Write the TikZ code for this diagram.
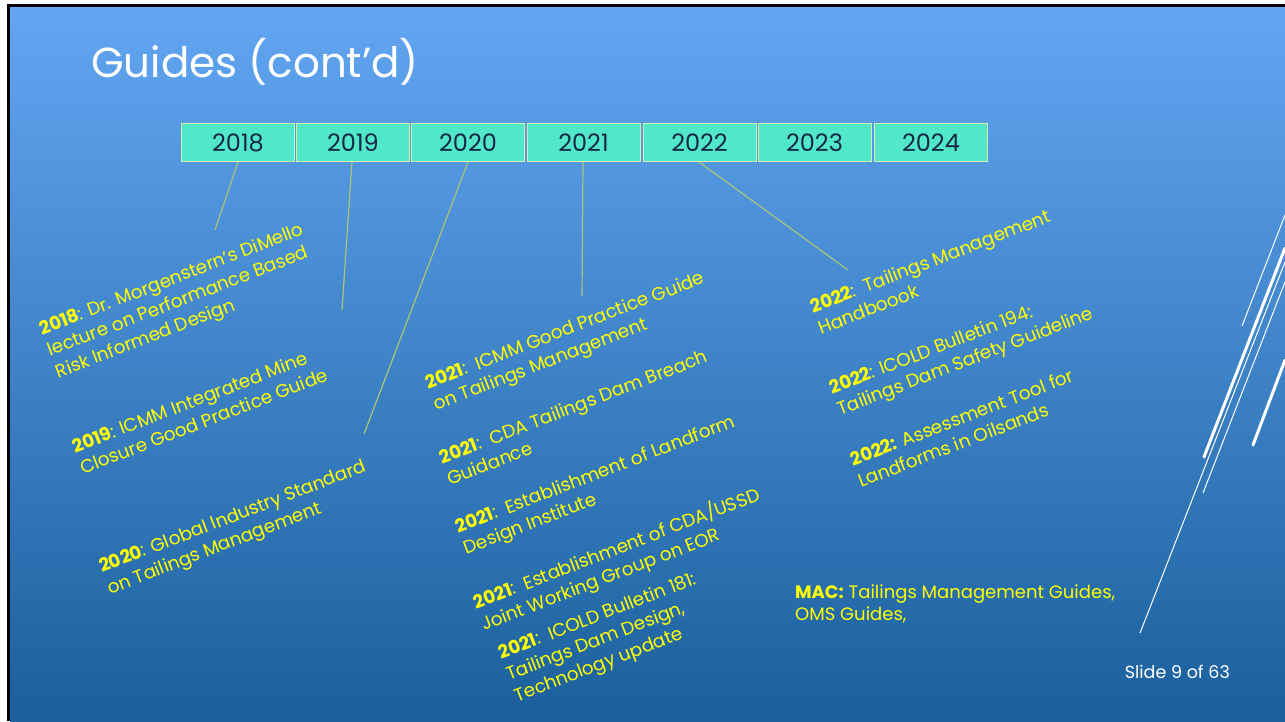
\documentclass[tikz,border=0pt]{standalone}
\usepackage{fontspec}
\setmainfont{Poppins}

\definecolor{slidetop}{RGB}{98,166,243}
\definecolor{slidebot}{RGB}{27,96,156}
\definecolor{yearfill}{RGB}{80,232,200}
\definecolor{yearedge}{RGB}{214,238,170}
\definecolor{yeartext}{RGB}{22,40,70}
\definecolor{leadline}{RGB}{170,196,120}
\definecolor{notetext}{RGB}{255,255,0}

\begin{document}
\begin{tikzpicture}[x=1pt,y=-1pt]
	\useasboundingbox (0,0) rectangle (1285,721);
	\fill[white] (0,0) rectangle (1285,721);
	\fill[black] (7,4) rectangle (1285,721);
	\shade[top color=slidetop,bottom color=slidebot] (10,7) rectangle (1285,721);
	
	\draw[white,line width=1pt] (1285,215) -- (1242,326);
	\draw[white,line width=3pt,line cap=round] (1285,248) -- (1204,457);
	\draw[white,line width=1pt] (1285,262) -- (1140,633);
	\draw[white,line width=1pt] (1285,282) -- (1203,493);
	\draw[white,line width=3pt,line cap=round] (1285,360) -- (1253,445);
	
	\node[anchor=base west,inner sep=0,white,font=\fontsize{42}{50}\selectfont] (title) at (91,77) {Guides (cont'd)};
	
	\begin{scope}[every node/.style={rectangle,draw=yearedge,line width=1pt,fill=yearfill,text=yeartext,minimum width=113,minimum height=38,inner sep=0,font=\fontsize{24}{28}\selectfont}]
		\node (y2018) at (238,142.5) {2018};
		\node (y2019) at (353,142.5) {2019};
		\node (y2020) at (468,142.5) {2020};
		\node (y2021) at (583.5,142.5) {2021};
		\node (y2022) at (699.5,142.5) {2022};
		\node (y2023) at (814.5,142.5) {2023};
		\node (y2024) at (931,142.5) {2024};
	\end{scope}
	
	\coordinate (e2018) at (215,230);
	\coordinate (e2019) at (342,310);
	\coordinate (e2020) at (364,434);
	\coordinate (e2021) at (582,296);
	\coordinate (e2022) at (848,270);
	\begin{scope}[leadline,line width=1.2pt]
		\draw (y2018.south) -- (e2018);
		\draw ([xshift=-1]y2019.south) -- (e2019);
		\draw (y2020.south) -- (e2020);
		\draw ([xshift=-0.5]y2021.south) -- (e2021);
		\draw ([xshift=-0.5]y2022.south) -- (e2022);
	\end{scope}
	
	\begin{scope}[every node/.style={anchor=north west,rotate=21,align=left,inner sep=0,text=notetext,font=\fontsize{18.3}{23}\selectfont}]
		\node (n2018) at (37,322) {\textbf{2018}: Dr. Morgenstern’s DiMello\\lecture on Performance Based\\Risk Informed Design};
		\node (n2019) at (70,440) {\textbf{2019}: ICMM Integrated Mine\\Closure Good Practice Guide};
		\node (n2020) at (97,560) {\textbf{2020}: Global Industry Standard\\on Tailings Management};
		\node (n2021a) at (423,376) {\textbf{2021}:\ \ ICMM Good Practice Guide\\on Tailings Management};
		\node (n2021b) at (437,451) {\textbf{2021}:\ \ CDA Tailings Dam Breach\\Guidance};
		\node (n2021c) at (453,520) {\textbf{2021}:\ \ Establishment of Landform\\Design Institute};
		\node (n2021d) at (470,593) {\textbf{2021}:\ \ Establishment of CDA/USSD\\Joint Working Group on EOR};
		\node (n2021e) at (496,646) {\textbf{2021}:\ \ ICOLD Bulletin 181:\\Tailings Dam Design,\\Technology update};
		\node (n2022a) at (808,300) {\textbf{2022}:\ \ Tailings Management\\Handboook};
		\node (n2022b) at (827,381) {\textbf{2022}: ICOLD Bulletin 194:\\Tailings Dam Safety Guideline};
		\node (n2022c) at (848,453) {\textbf{2022:} Assessment Tool for\\Landforms in Oilsands};
	\end{scope}
	
	\node[anchor=north west,align=left,inner sep=0,text=notetext,font=\fontsize{18}{22}\selectfont] (mac) at (795,585) {\textbf{MAC:} Tailings Management Guides,\\OMS Guides,};
	\node[anchor=base east,inner sep=0,white,font=\fontsize{17.5}{20}\selectfont] (slideno) at (1230,678) {Slide 9 of 63};
\end{tikzpicture}
\end{document}
